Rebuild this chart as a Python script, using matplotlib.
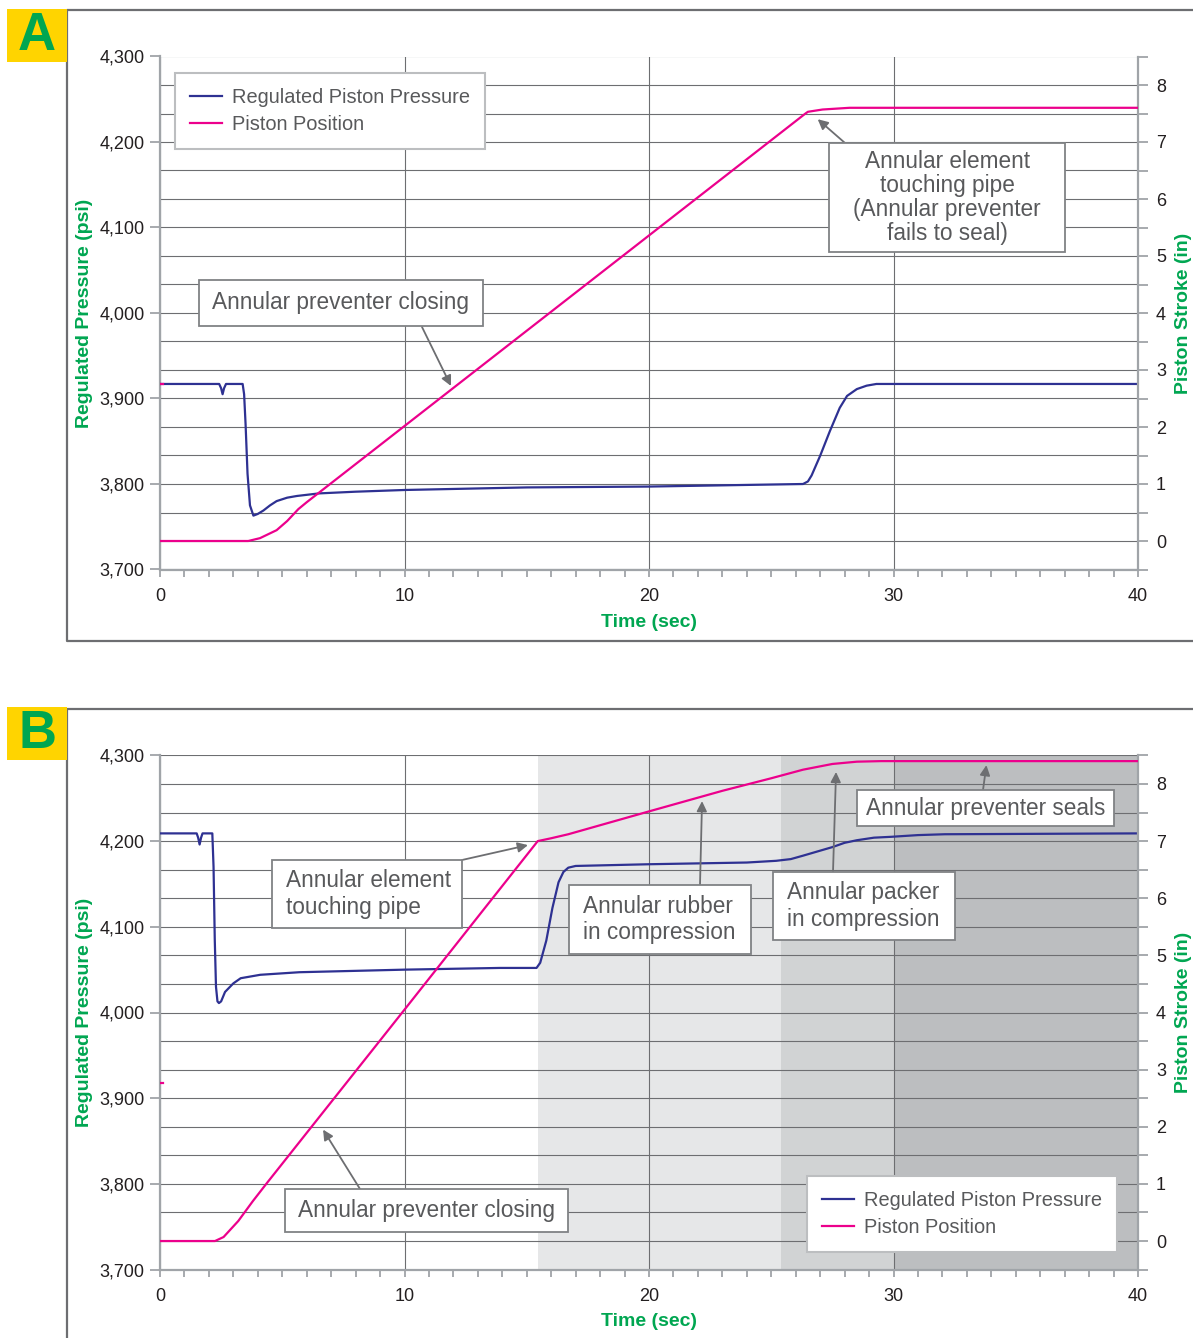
import numpy as np
import matplotlib
matplotlib.use("Agg")
import matplotlib.pyplot as plt
from matplotlib.patches import Rectangle
from matplotlib.lines import Line2D
from matplotlib.ticker import StrMethodFormatter

W, H = 1193, 1338

# ---- panel A data ----
a_press_time = [0, 2.42, 2.50, 2.56, 2.62, 2.70, 3.38, 3.44, 3.50, 3.58, 3.68, 3.82,
                4.00, 4.23, 4.50, 4.77, 5.20, 5.60, 6.5, 8.0, 10.0, 15.0, 20.0, 26.3,
                26.5, 26.65, 27.0, 27.4, 27.8, 28.1, 28.5, 28.9, 29.3, 40.0]
a_pressure = [3917, 3917, 3912, 3905, 3912, 3917, 3917, 3905, 3870, 3812, 3775, 3763,
              3765, 3769, 3775, 3780, 3784, 3786, 3789, 3791, 3793, 3796, 3797, 3800,
              3803, 3810, 3833, 3862, 3889, 3903, 3911, 3915, 3917, 3917]
a_stroke_time = [0, 3.61, 4.09, 4.77, 5.20, 5.66, 6.0, 26.4, 26.5, 27.1, 28.2, 40.0]
a_stroke = [0, 0, 0.05, 0.19, 0.35, 0.56, 0.68, 7.50, 7.53, 7.57, 7.60, 7.60]

# ---- panel B data ----
b_press_time = [0, 1.50, 1.56, 1.62, 1.68, 1.74, 2.14, 2.19, 2.24, 2.29, 2.35, 2.41,
                2.50, 2.66, 3.0, 3.3, 4.1, 5.7, 10.0, 13.9, 15.4, 15.55, 15.8, 16.05,
                16.3, 16.5, 16.7, 17.0, 20.0, 24.0, 25.2, 25.8, 26.3, 26.9, 27.5, 28.0,
                28.5, 29.2, 29.9, 31.0, 32.1, 40.0]
b_pressure = [4209, 4209, 4204, 4196, 4204, 4209, 4209, 4170, 4085, 4030, 4013, 4011,
              4013, 4024, 4034, 4040, 4044, 4047, 4050, 4052, 4052, 4058, 4084, 4122,
              4152, 4164, 4169, 4171, 4173, 4175, 4177, 4179, 4183, 4188, 4193, 4198,
              4201, 4204, 4205, 4207, 4208, 4209]
b_stroke_time = [0, 2.25, 2.6, 3.2, 3.8, 4.4, 10.0, 15.45, 16.0, 16.7, 20.0, 23.0,
                 25.0, 26.3, 27.5, 28.5, 29.5, 40.0]
b_stroke = [0, 0, 0.07, 0.35, 0.70, 1.03, 4.05, 7.0, 7.05, 7.12, 7.52, 7.88,
            8.10, 8.25, 8.35, 8.39, 8.40, 8.40]

# stray first sample of the position trace at t=0
stray_time = [0, 0.12]
stray_stroke = [2.76, 2.76]

# B phases (shaded time spans)
phase_edges = [15.45, 25.4, 30.0, 40.0]
phase_colors = ["#e6e7e8", "#d1d3d4", "#bcbec0"]

press_ticks = [3700, 3800, 3900, 4000, 4100, 4200, 4300]
stroke_ticks = [0, 1, 2, 3, 4, 5, 6, 7, 8]
time_ticks = [0, 10, 20, 30, 40]

BLUE = "#2e3192"
PINK = "#ec008c"
GREEN = "#00a651"
GRID = "#6d6e71"
SPINE = "#a0a4a8"
TXT = "#58595b"
BOXEDGE = "#808285"
FONT = "Liberation Sans"


def fx(px):
    return px / W


def fy(py):
    return 1 - py / H


def make_axes(fig, top_px, bottom_px, xlabel_px):
    """Основні осі + права вісь для ходу поршня."""
    hgt = bottom_px - top_px
    ax = fig.add_axes([fx(160), fy(bottom_px), (1138 - 160) / W, hgt / H])
    ax.set_xlim(0, 40)
    ax.set_ylim(3700, 4300)
    ax.set_xticks(time_ticks)
    ax.set_xticks(np.arange(0, 41, 1), minor=True)
    ax.set_yticks(press_ticks)
    ax.set_yticks(np.linspace(3700, 4300, 19), minor=True)
    ax.yaxis.set_major_formatter(StrMethodFormatter("{x:,.0f}"))
    ax.set_axisbelow(True)
    ax.grid(which="both", axis="y", color=GRID, lw=0.8)
    ax.grid(which="major", axis="x", color=GRID, lw=0.8)
    ax.tick_params(axis="y", which="major", length=7, width=1.3, color=SPINE,
                   labelsize=13, labelcolor="#231f20", pad=4)
    ax.tick_params(axis="y", which="minor", length=0)
    ax.tick_params(axis="x", which="both", length=5, width=1.3, color=SPINE,
                   labelsize=13, labelcolor="#231f20", pad=8)
    for s in ("top", "right"):
        ax.spines[s].set_visible(False)
    for s in ("left", "bottom"):
        ax.spines[s].set_color(SPINE)
        ax.spines[s].set_linewidth(1.6)

    ax2 = ax.twinx()
    ax2.set_ylim(-0.5, 8.5)
    ax2.set_yticks(stroke_ticks)
    ax2.set_yticks(np.arange(-0.5, 8.6, 1), minor=True)
    ax2.tick_params(axis="y", which="both", length=7, width=1.3, color=SPINE,
                    labelsize=13, labelcolor="#231f20", pad=6)
    for s in ("top", "left", "bottom"):
        ax2.spines[s].set_visible(False)
    ax2.spines["right"].set_color(SPINE)
    ax2.spines["right"].set_linewidth(1.6)

    lab = dict(color=GREEN, fontweight="bold", fontsize=14)
    ax.set_ylabel("Regulated Pressure (psi)", **lab)
    ax.yaxis.set_label_coords((93 - 160) / 978, 0.5)
    ax.set_xlabel("Time (sec)", **lab)
    ax.xaxis.set_label_coords(0.5, -(xlabel_px - 7 - bottom_px) / hgt)
    ax2.set_ylabel("Piston Stroke (in)", **lab)
    ax2.yaxis.set_label_coords((1175 - 160) / 978, 0.5)
    return ax, ax2


def text_box(fig, x0, y0, x1, y1, text, ha="center", tx=None, ls=1.2):
    """Біла рамка з підписом (координати в пікселях)."""
    fig.add_artist(Rectangle((fx(x0), fy(y1)), fx(x1) - fx(x0), (y1 - y0) / H,
                             transform=fig.transFigure, fc="white", ec=BOXEDGE,
                             lw=1.3, zorder=5))
    if tx is None:
        tx = (x0 + x1) / 2
    fig.text(fx(tx), fy((y0 + y1) / 2), text, ha=ha, va="center", fontsize=16.3,
             color=TXT, linespacing=ls, multialignment=ha, zorder=6)


def arrow(ax, tip, start_px):
    ax.annotate("", xy=tip, xycoords="data",
                xytext=(fx(start_px[0]), fy(start_px[1])), textcoords="figure fraction",
                arrowprops=dict(arrowstyle="-|>", color=GRID, lw=1.3,
                                mutation_scale=15, shrinkA=0, shrinkB=0), zorder=7)


def add_legend(ax2, handles, x, y):
    leg = ax2.legend(handles=handles, loc="upper left", bbox_to_anchor=(fx(x), fy(y)),
                     bbox_transform=ax2.figure.transFigure, frameon=True, fancybox=False,
                     edgecolor="#bcbec0", framealpha=1, borderpad=0.75, handlelength=1.6,
                     handletextpad=0.5, labelspacing=0.4, fontsize=14.4,
                     borderaxespad=0, labelcolor=TXT)
    leg.get_frame().set_linewidth(1.5)
    leg.set_zorder(8)


def panel_frame(fig, top_px, bottom_px, letter, box_top, box_bottom):
    fig.add_artist(Line2D([1.0, fx(67), fx(67), 1.0],
                          [fy(top_px), fy(top_px), fy(bottom_px), fy(bottom_px)],
                          transform=fig.transFigure, color=GRID, lw=1.6))
    fig.add_artist(Rectangle((fx(7), fy(box_bottom)), fx(67) - fx(7), (box_bottom - box_top) / H,
                             transform=fig.transFigure, fc="#ffd400", ec="none", zorder=4))
    fig.text(fx(37), fy((box_top + box_bottom) / 2 + 1), letter, ha="center", va="center",
             fontsize=38, fontweight="bold", color=GREEN, zorder=5)


def main():
    plt.rcParams["font.family"] = [FONT, "DejaVu Sans"]
    fig = plt.figure(figsize=(W / 100, H / 100), dpi=100)

    # ---------- A ----------
    panel_frame(fig, 10, 641, "A", 9, 62)
    axa, axa2 = make_axes(fig, 56.5, 569.5, 621)
    lp, = axa.plot(a_press_time, a_pressure, color=BLUE, lw=1.6, zorder=3,
                   label="Regulated Piston Pressure")
    ls_, = axa2.plot(a_stroke_time, a_stroke, color=PINK, lw=1.6, zorder=3,
                     label="Piston Position")
    axa2.plot(stray_time, stray_stroke, color=PINK, lw=1.6)
    add_legend(axa2, [lp, ls_], 175, 73)
    text_box(fig, 199, 280, 483, 326, "Annular preventer closing")
    arrow(axa2, (11.9, 2.72), (422, 327))
    text_box(fig, 829, 143, 1065, 252,
             "Annular element\ntouching pipe\n(Annular preventer\nfails to seal)", ls=1.05)
    arrow(axa2, (26.9, 7.4), (845, 143))

    # ---------- B ----------
    panel_frame(fig, 709, 1340, "B", 707, 760)
    axb, axb2 = make_axes(fig, 755.4, 1269.6, 1320)
    for i, c in enumerate(phase_colors):
        axb.axvspan(phase_edges[i], phase_edges[i + 1], color=c, lw=0, zorder=0.2)
    lp, = axb.plot(b_press_time, b_pressure, color=BLUE, lw=1.6, zorder=3,
                   label="Regulated Piston Pressure")
    ls_, = axb2.plot(b_stroke_time, b_stroke, color=PINK, lw=1.6, zorder=3,
                     label="Piston Position")
    axb2.plot(stray_time, stray_stroke, color=PINK, lw=1.6)
    add_legend(axb2, [lp, ls_], 807, 1176)

    text_box(fig, 272, 860, 462, 928, "Annular element\ntouching pipe", ha="left", tx=286)
    arrow(axb2, (15.05, 6.93), (462, 860))
    text_box(fig, 569, 885, 751, 954, "Annular rubber\nin compression", ha="left", tx=583)
    arrow(axb2, (22.17, 7.70), (700, 885))
    text_box(fig, 773, 872, 955, 940, "Annular packer\nin compression", ha="left", tx=787)
    arrow(axb2, (27.65, 8.21), (833, 872))
    text_box(fig, 857, 790, 1114, 826, "Annular preventer seals")
    arrow(axb2, (33.8, 8.33), (983, 790))
    text_box(fig, 285, 1189, 568, 1232, "Annular preventer closing")
    arrow(axb2, (6.67, 1.95), (360, 1189))

    fig.savefig("out.png", dpi=100)


if __name__ == "__main__":
    main()
